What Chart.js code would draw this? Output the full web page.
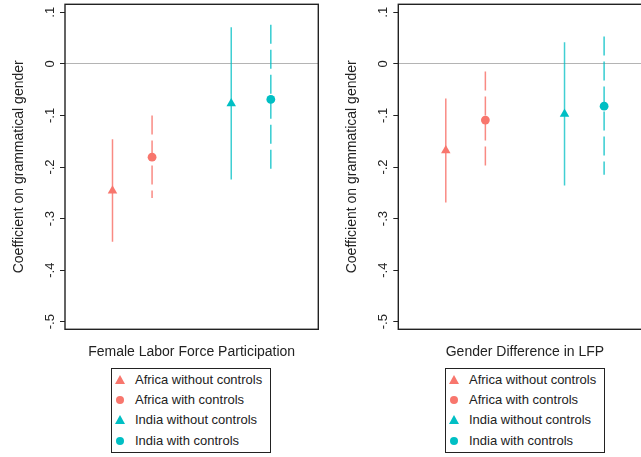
<!DOCTYPE html>
<html>
<head>
<meta charset="utf-8">
<script src="https://cdn.jsdelivr.net/npm/chart.js@4/dist/chart.umd.min.js"></script>
<style>
  html, body { margin: 0; padding: 0; background: #fff; }
  #wrap { position: relative; width: 641px; height: 457px; overflow: hidden; background: #fff;
          font-family: 'Liberation Sans', Arial, sans-serif; color: #222; }
  canvas { position: absolute; top: 0; }
  .legend { position: absolute; top: 368px; width: 160px; height: 85px; border: 1px solid #222; box-sizing: border-box; background: #fff; }
  .item { position: absolute; left: 0; height: 20px; line-height: 20px; font-size: 13px; white-space: nowrap; }
  .item span.t { position: absolute; left: 23px; top: 0; }
  .tri { position: absolute; left: 3px; top: 5px; width: 0; height: 0; border-left: 5px solid transparent; border-right: 5px solid transparent; border-bottom: 9px solid; }
  .dot { position: absolute; left: 4px; top: 6px; width: 8px; height: 8px; border-radius: 50%; }
</style>
</head>
<body>
<div id="wrap">
  <canvas id="c1" width="320" height="370" style="left:0px"></canvas>
  <canvas id="c2" width="332" height="370" style="left:320px"></canvas>
  <div class="legend" id="lg1" style="left:111px"></div>
  <div class="legend" id="lg2" style="left:445px"></div>
</div>
<script>
// ---- data ----
const seriesNames = ['Africa without controls', 'Africa with controls', 'India without controls', 'India with controls'];
const xPositions = [3, 5.5, 10.5, 13];
const panelTitles = ['Female Labor Force Participation', 'Gender Difference in LFP'];
const yAxisTitle = 'Coefficient on grammatical gender';

// Panel 1: Female Labor Force Participation
const flfpEst  = [-0.246, -0.181, -0.077, -0.069];
const flfpLow  = [-0.345, -0.260, -0.224, -0.206];
const flfpHigh = [-0.146, -0.100,  0.071,  0.076];

// Panel 2: Gender Difference in LFP
const gapEst  = [-0.168, -0.109, -0.097, -0.082];
const gapLow  = [-0.269, -0.199, -0.236, -0.215];
const gapHigh = [-0.067, -0.015,  0.042,  0.053];

const yTicks = [0.1, 0, -0.1, -0.2, -0.3, -0.4, -0.5];
const yTickLabels = ['.1', '0', '-.1', '-.2', '-.3', '-.4', '-.5'];

// ---- styles ----
const RED = '#F8766D', TEAL = '#00BFC4';
const markerColors = [RED, RED, TEAL, TEAL];
const lineColors = ['rgba(248,118,109,0.85)', 'rgba(248,118,109,0.85)', 'rgba(0,191,196,0.75)', 'rgba(0,191,196,0.8)'];
const markerStyles = ['triangle', 'circle', 'triangle', 'circle'];
const markerRadius = [5.5, 4.4, 5.5, 4.4];
const dashed = [false, true, false, true];
const FONT = "'Liberation Sans', Arial, sans-serif";

const boxPlugin = {
  id: 'plotBox',
  afterDraw(chart) {
    const { ctx, chartArea: a } = chart;
    ctx.save();
    ctx.strokeStyle = '#222';
    ctx.lineWidth = 1.4;
    ctx.strokeRect(a.left, a.top, a.right - a.left, a.bottom - a.top);
    ctx.restore();
  }
};

function makePanel(id, est, low, high, title, yW, yTitlePad, tickPad, rightPad) {
  const datasets = [];
  for (let i = 0; i < seriesNames.length; i++) {
    datasets.push({
      label: seriesNames[i],
      data: [{ x: xPositions[i], y: est[i] }],
      showLine: false,
      pointStyle: markerStyles[i],
      pointRadius: markerRadius[i],
      backgroundColor: markerColors[i],
      borderColor: markerColors[i],
      pointBorderWidth: 0,
      order: 0
    });
  }
  for (let i = 0; i < seriesNames.length; i++) {
    datasets.push({
      label: seriesNames[i] + ' CI',
      data: [{ x: xPositions[i], y: high[i] }, { x: xPositions[i], y: low[i] }],
      showLine: true,
      borderColor: lineColors[i],
      borderWidth: 1.5,
      borderDash: dashed[i] ? [19, 6] : [],
      pointRadius: 0,
      fill: false,
      order: 1
    });
  }
  return new Chart(document.getElementById(id), {
    type: 'line',
    data: { datasets },
    options: {
      responsive: false,
      animation: false,
      events: [],
      layout: { padding: { top: 4.3, left: 0, right: rightPad, bottom: 0 }, autoPadding: false },
      plugins: { legend: { display: false }, tooltip: { enabled: false } },
      scales: {
        x: {
          type: 'linear', min: 0, max: 16,
          ticks: { display: false },
          grid: { display: false },
          border: { display: false },
          title: { display: true, text: title, color: '#222', font: { family: FONT, size: 14 }, padding: { top: 0, bottom: 9.9 } },
          afterFit(s) { s.height = 40.7; s.paddingLeft = 0; s.paddingRight = 0; s.paddingTop = 0; s.paddingBottom = 0; }
        },
        y: {
          type: 'linear', min: -0.5147, max: 0.1155,
          afterBuildTicks(s) { s.ticks = yTicks.map(v => ({ value: v })); },
          ticks: {
            minRotation: 90, maxRotation: 90, crossAlign: 'center', padding: tickPad,
            color: '#222', font: { family: FONT, size: 13 },
            callback(v) { const k = yTicks.findIndex(t => Math.abs(t - v) < 1e-9); return k >= 0 ? yTickLabels[k] : ''; }
          },
          grid: {
            drawOnChartArea: true, drawTicks: true, tickLength: 5, tickColor: '#222', tickWidth: 1,
            lineWidth: 1,
            color: (c) => (c.tick && Math.abs(c.tick.value) < 1e-9) ? '#b4b4b4' : 'rgba(0,0,0,0)'
          },
          border: { display: false },
          title: { display: true, text: yAxisTitle, color: '#222', font: { family: FONT, size: 14 }, padding: { top: yTitlePad, bottom: 0 } },
          afterFit(s) { s.width = yW; s.paddingLeft = 0; s.paddingRight = 0; s.paddingTop = 0; s.paddingBottom = 0; }
        }
      }
    },
    plugins: [boxPlugin]
  });
}

makePanel('c1', flfpEst, flfpLow, flfpHigh, panelTitles[0], 65, 10.9, 1.5, 1.7);
makePanel('c2', gapEst, gapLow, gapHigh, panelTitles[1], 78.3, 24.1, 2.4, 0.4);

function buildLegend(id) {
  const el = document.getElementById(id);
  for (let i = 0; i < seriesNames.length; i++) {
    const it = document.createElement('div');
    it.className = 'item';
    it.style.top = (0.7 + i * 20.3) + 'px';
    const m = document.createElement('span');
    if (markerStyles[i] === 'triangle') { m.className = 'tri'; m.style.borderBottomColor = markerColors[i]; }
    else { m.className = 'dot'; m.style.background = markerColors[i]; }
    const t = document.createElement('span');
    t.className = 't';
    t.textContent = seriesNames[i];
    it.appendChild(m); it.appendChild(t);
    el.appendChild(it);
  }
}
buildLegend('lg1');
buildLegend('lg2');
</script>
</body>
</html>
